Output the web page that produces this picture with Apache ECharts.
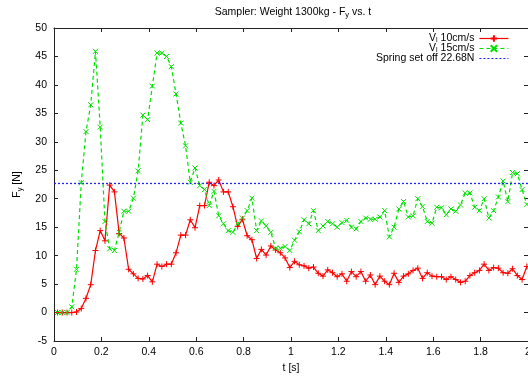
<!DOCTYPE html>
<html>
<head>
<meta charset="utf-8">
<script src="https://cdn.jsdelivr.net/npm/echarts@6/dist/echarts.min.js"></script>
<style>
html,body{margin:0;padding:0;background:#fff;}
#chart{width:528px;height:376px;}
</style>
</head>
<body>
<div id="chart"></div>
<script>
// time samples [s]
var times = [
0.015,0.035,0.055,0.075,0.095,0.115,0.135,0.155,0.175,0.195,
0.215,0.235,0.255,0.275,0.295,0.315,0.335,0.355,0.375,0.395,
0.415,0.435,0.455,0.475,0.495,0.515,0.535,0.555,0.575,0.595,
0.615,0.635,0.655,0.675,0.695,0.715,0.735,0.755,0.775,0.795,
0.815,0.835,0.855,0.875,0.895,0.915,0.935,0.955,0.975,0.995,
1.015,1.035,1.055,1.075,1.095,1.115,1.135,1.155,1.175,1.195,
1.215,1.235,1.255,1.275,1.295,1.315,1.335,1.355,1.375,1.395,
1.415,1.435,1.455,1.475,1.495,1.515,1.535,1.555,1.575,1.595,
1.615,1.635,1.655,1.675,1.695,1.715,1.735,1.755,1.775,1.795,
1.815,1.835,1.855,1.875,1.895,1.915,1.935,1.955,1.975,1.995
];
// F_y [N] at V_l = 10 cm/s
var fy10 = [
0,0,0,0,0.1,0.7,2.5,4.9,10.9,14.4,
12.6,22.4,21.2,13.9,13.1,7.6,6.8,6.0,5.9,6.5,
5.4,8.5,8.1,8.5,8.5,10.5,13.6,13.6,16.3,14.9,
18.8,18.8,22.9,22.3,23.3,21.2,21.2,18.6,15.1,16.4,
13.5,12.8,9.5,11.1,10.1,11.7,11.0,10.5,9.6,7.9,
9.0,8.4,8.2,7.8,8.0,6.9,6.4,7.5,7.0,6.3,
6.8,5.5,7.2,6.3,7.2,5.5,6.6,4.9,6.4,5.5,
4.9,6.9,5.3,6.4,6.8,7.4,7.8,6.0,7.0,6.4,
6.3,6.3,5.8,6.3,5.8,5.3,5.5,6.5,7.0,7.4,
8.5,7.4,7.9,7.8,7.0,6.9,7.7,6.5,5.8,8.1
];
// F_y [N] at V_l = 15 cm/s
var fy15 = [
0,0,0,1.0,7.6,22.8,31.8,36.5,45.9,32.6,
16.0,11.2,10.9,14.1,17.8,17.8,20.1,24.9,34.7,33.9,
39.8,45.6,45.6,45.0,43.2,38.4,33.3,29.3,22.9,25.4,
22.3,21.6,18.8,21.3,17.0,15.6,14.4,14.1,15.6,16.6,
17.9,20.1,14.4,16.1,15.2,14.1,11.3,11.3,11.6,10.9,
12.7,14.2,16.3,15.6,17.9,14.4,15.2,16.0,15.6,15.0,
15.8,16.2,15.0,14.7,16.0,16.6,16.4,16.4,16.8,17.9,
13.3,15.0,18.2,19.5,16.8,17.0,20.0,18.6,16.0,15.7,
18.5,18.4,17.2,18.2,17.8,18.9,21.0,21.0,18.5,17.9,
20.0,16.6,17.9,20.3,23.1,19.5,24.6,24.4,21.6,19.0
];
var springLevel = 22.68;
var springSpan = [0, 2];
var seriesNames = ['V_l 10cm/s', 'V_l 15cm/s', 'Spring set off 22.68N'];
var legendTexts = ['V{s|l}{n| 10cm/s}', 'V{s|l}{n| 15cm/s}', 'Spring set off 22.68N'];

var FONT = "'Liberation Sans', Arial, Helvetica, sans-serif";
var AX = '#222';

function pairs(xs, ys){ return xs.map(function(x,i){ return [x, ys[i]]; }); }

var chart = echarts.init(document.getElementById('chart'), null, {renderer:'canvas'});
var plusPath = 'path://M5,0L5,10M0,5L10,5';
var crossPath = 'path://M0,0L10,10M10,0L0,10';

var option = {
  animation: false,
  backgroundColor: '#fff',
  textStyle: {fontFamily: FONT},
  title: {
    text: '{n|Sampler: Weight 1300kg - F}{s|y}{n| vs. t}',
    left: 288, top: 0, textAlign: 'center',
    textStyle: {
      fontFamily: FONT, fontSize: 10.5, fontWeight: 'normal', color: '#000',
      rich: {
        n: {fontFamily: FONT, fontSize: 10.5, color: '#000', lineHeight: 14},
        s: {fontFamily: FONT, fontSize: 7.5, color: '#000', lineHeight: 6, verticalAlign: 'bottom'}
      }
    }
  },
  legend: {
    orient: 'vertical', right: 14, top: 28, align: 'right',
    itemWidth: 29, itemHeight: 8, itemGap: -1,
    data: seriesNames,
    lineStyle: {width: 1.2},
    formatter: function(name){ return legendTexts[seriesNames.indexOf(name)]; },
    textStyle: {
      fontFamily: FONT, fontSize: 10.5, color: '#000', lineHeight: 10,
      rich: {
        n: {fontFamily: FONT, fontSize: 10.5, color: '#000', lineHeight: 10},
        s: {fontFamily: FONT, fontSize: 7, color: '#000', lineHeight: 5, verticalAlign: 'bottom'}
      }
    }
  },
  grid: {left: 54, right: 0, top: 28, bottom: 35, containLabel: false, outerBoundsMode: 'none'},
  xAxis: [{
    type: 'value', min: 0, max: 2, interval: 0.2, position: 'bottom',
    name: 't [s]', nameLocation: 'middle', nameGap: 20,
    nameTextStyle: {fontFamily: FONT, fontSize: 10.5, color: '#000'},
    axisLine: {show: true, onZero: false, lineStyle: {color: AX, width: 1}},
    axisTick: {show: true, inside: true, length: 4, lineStyle: {color: AX}},
    axisLabel: {fontFamily: FONT, fontSize: 10.5, color: '#000', margin: 6},
    splitLine: {show: false}
  },{
    type: 'value', min: 0, max: 2, interval: 0.2, position: 'top',
    axisLine: {show: true, onZero: false, lineStyle: {color: AX, width: 1}},
    axisTick: {show: true, inside: true, length: 4, lineStyle: {color: AX}},
    axisLabel: {show: false}, splitLine: {show: false}
  }],
  yAxis: [{
    type: 'value', min: -5, max: 50, interval: 5, position: 'left',
    name: '{n|F}{s|y}{n| [N]}', nameLocation: 'middle', nameGap: 30,
    nameTextStyle: {
      fontFamily: FONT, fontSize: 10.5, color: '#000',
      rich: {
        n: {fontFamily: FONT, fontSize: 10.5, color: '#000', lineHeight: 14},
        s: {fontFamily: FONT, fontSize: 7.5, color: '#000', lineHeight: 6, verticalAlign: 'bottom'}
      }
    },
    axisLine: {show: true, onZero: false, lineStyle: {color: AX, width: 1}},
    axisTick: {show: true, inside: true, length: 4, lineStyle: {color: AX}},
    axisLabel: {fontFamily: FONT, fontSize: 10.5, color: '#000', margin: 7},
    splitLine: {show: false}
  },{
    type: 'value', min: -5, max: 50, interval: 5, position: 'right',
    axisLine: {show: true, onZero: false, lineStyle: {color: AX, width: 1}},
    axisTick: {show: true, inside: true, length: 4, lineStyle: {color: AX}},
    axisLabel: {show: false}, splitLine: {show: false}
  }],
  series: [{
    name: seriesNames[0], type: 'line', data: pairs(times, fy10),
    xAxisIndex: 0, yAxisIndex: 0,
    symbol: plusPath, symbolSize: 6,
    itemStyle: {color: '#ff0000', borderColor: '#ff0000', borderWidth: 1},
    lineStyle: {color: '#ff0000', width: 1.2, type: 'solid'},
    emphasis: {disabled: true}
  },{
    name: seriesNames[1], type: 'line', data: pairs(times, fy15),
    xAxisIndex: 0, yAxisIndex: 0,
    symbol: crossPath, symbolSize: 5,
    itemStyle: {color: '#00e000', borderColor: '#00e000', borderWidth: 1},
    lineStyle: {color: '#00e000', width: 1.2, type: [4, 3]},
    emphasis: {disabled: true}
  },{
    name: seriesNames[2], type: 'line',
    data: [[springSpan[0], springLevel], [springSpan[1], springLevel]],
    xAxisIndex: 0, yAxisIndex: 0,
    symbol: 'none',
    itemStyle: {color: '#2020ff', opacity: 0},
    lineStyle: {color: '#2020ff', width: 1.3, type: [2, 2]},
    emphasis: {disabled: true}
  }]
};
chart.setOption(option);
</script>
</body>
</html>
